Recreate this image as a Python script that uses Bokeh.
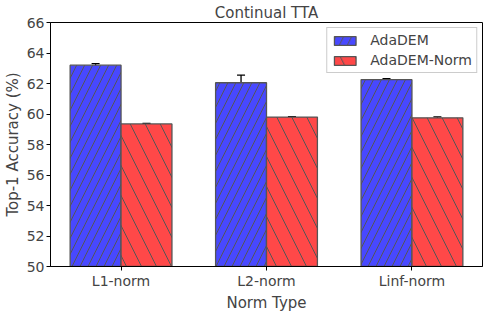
from bokeh.plotting import figure
from bokeh.models import ColumnDataSource, Whisker, TeeHead, FixedTicker, Range1d, Legend, LegendItem
from bokeh.embed import file_html
from bokeh.resources import INLINE

categories = ["L1-norm", "L2-norm", "Linf-norm"]
adadem = [63.2, 62.05, 62.25]
adadem_err = [0.1, 0.5, 0.07]
adadem_norm = [59.35, 59.8, 59.75]
adadem_norm_err = [0.03, 0.02, 0.06]
y_ticks = [50, 52, 54, 56, 58, 60, 62, 64, 66]

FONT = "DejaVu Sans"
w = 0.35
xs = list(range(len(categories)))

p = figure(frame_width=432, frame_height=244, output_backend="svg", toolbar_location=None,
           x_range=Range1d(-0.485, 2.485), y_range=Range1d(50, 66),
           min_border_left=0, min_border_right=2, min_border_top=0, min_border_bottom=0)

src_a = ColumnDataSource(dict(x=[x - w / 2 for x in xs], top=adadem,
                              lo=[v - e for v, e in zip(adadem, adadem_err)],
                              hi=[v + e for v, e in zip(adadem, adadem_err)]))
src_b = ColumnDataSource(dict(x=[x + w / 2 for x in xs], top=adadem_norm,
                              lo=[v - e for v, e in zip(adadem_norm, adadem_norm_err)],
                              hi=[v + e for v, e in zip(adadem_norm, adadem_norm_err)]))

ra = p.vbar(x="x", top="top", bottom=50, width=w, source=src_a,
            fill_color="#4848ff", line_color="#555555", line_width=1.3,
            hatch_pattern="right_diagonal_line", hatch_color="#555555",
            hatch_scale=16, hatch_weight=1)
rb = p.vbar(x="x", top="top", bottom=50, width=w, source=src_b,
            fill_color="#ff4848", line_color="#555555", line_width=1.3,
            hatch_pattern="left_diagonal_line", hatch_color="#555555",
            hatch_scale=30, hatch_weight=1)

for src in (src_a, src_b):
    wh = Whisker(base="x", lower="lo", upper="hi", source=src, line_color="black", line_width=1.3,
                 upper_head=TeeHead(size=8, line_color="black", line_width=1.3),
                 lower_head=TeeHead(size=8, line_color="black", line_width=1.3))
    p.add_layout(wh)

legend = Legend(items=[LegendItem(label="AdaDEM", renderers=[ra]),
                       LegendItem(label="AdaDEM-Norm", renderers=[rb])],
                location="top_right", label_text_font=FONT, label_text_font_size="14px",
                label_height=14,
                border_line_color="#cccccc", border_line_alpha=1, background_fill_alpha=0.8,
                glyph_width=27, glyph_height=11, spacing=4, padding=4, margin=5,
                label_standoff=12)
p.add_layout(legend)

p.title.text = "Continual TTA"
p.title.align = "center"
p.title.text_font = FONT
p.title.text_font_size = "15px"
p.title.text_font_style = "normal"
p.title.standoff = 2

p.xaxis.ticker = FixedTicker(ticks=xs)
p.xaxis.major_label_overrides = {i: c for i, c in enumerate(categories)}
p.yaxis.ticker = FixedTicker(ticks=y_ticks)
p.xaxis.axis_label = "Norm Type"
p.yaxis.axis_label = "Top-1 Accuracy (%)"
for ax in (p.xaxis[0], p.yaxis[0]):
    ax.axis_label_text_font = FONT
    ax.axis_label_text_font_size = "15px"
    ax.axis_label_text_font_style = "normal"
    ax.major_label_text_font = FONT
    ax.major_label_text_font_size = "14px"
    ax.minor_tick_line_color = None
    ax.major_tick_in = 0
    ax.major_tick_out = 4
    ax.axis_line_color = "black"
    ax.major_label_standoff = 2
    ax.axis_label_standoff = 2
p.xgrid.grid_line_color = None
p.ygrid.grid_line_color = None
p.outline_line_color = "black"
p.outline_line_alpha = 1

open("out.html", "w").write(file_html(p, INLINE))
